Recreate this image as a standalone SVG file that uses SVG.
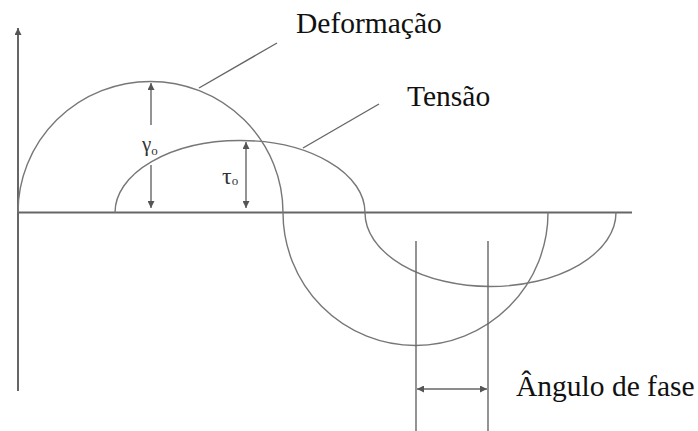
<svg xmlns="http://www.w3.org/2000/svg" width="698" height="431" viewBox="0 0 698 431">
<defs>
<marker id="ah" viewBox="0 0 10 10" refX="10" refY="5" markerWidth="7" markerHeight="7" markerUnits="userSpaceOnUse" orient="auto-start-reverse">
<path d="M0,0 L10,5 L0,10 Z" fill="#555"/>
</marker>
<style>
.ax{stroke:#666;stroke-width:2;fill:none}
.cv{stroke:#777;stroke-width:1.4;fill:none}
.ln{stroke:#666;stroke-width:1.4;fill:none}
.lb{font-family:"Liberation Serif","Times New Roman",serif;font-size:29.5px;fill:#111}
.sym{font-family:"Liberation Serif","Times New Roman",serif;fill:#333}
</style>
</defs>
<rect width="698" height="431" fill="#fff"/>
<g id="axes">
<line class="ax" x1="18" y1="391" x2="18" y2="28" marker-end="url(#ah)"/>
<line class="ax" x1="18" y1="212.5" x2="632" y2="212.5"/>
</g>
<g id="deformacao">
<path class="cv" d="M18,212.5 A132.5,131 0 0 1 283,212.5 A132.5,133 0 0 0 548,212.5"/>
</g>
<g id="tensao">
<path class="cv" d="M115,212.5 A125,72 0 0 1 365,212.5 A125.5,74 0 0 0 616,212.5"/>
</g>
<g id="connectors">
<line class="ln" x1="199" y1="88" x2="277" y2="43"/>
<line class="ln" x1="303" y1="148" x2="379" y2="104"/>
<line class="ln" x1="151" y1="125" x2="151" y2="83" marker-end="url(#ah)"/>
<line class="ln" x1="151" y1="165" x2="151" y2="208" marker-end="url(#ah)"/>
<line class="ln" x1="246" y1="175" x2="246" y2="142" marker-end="url(#ah)"/>
<line class="ln" x1="246" y1="175" x2="246" y2="208" marker-end="url(#ah)"/>
<line class="ln" x1="416" y1="241" x2="416" y2="431"/>
<line class="ln" x1="488" y1="241" x2="488" y2="431"/>
<line class="ln" x1="417" y1="389" x2="487" y2="389" marker-start="url(#ah)" marker-end="url(#ah)"/>
</g>
<g id="label-deformacao"><text class="lb" x="296" y="33">Deformação</text></g>
<g id="label-tensao"><text class="lb" x="407" y="106">Tensão</text></g>
<g id="label-fase"><text class="lb" x="516" y="396">Ângulo de fase</text></g>
<g id="label-gamma"><text class="sym" x="142" y="151" font-size="21">γ<tspan font-size="13" dy="4">o</tspan></text></g>
<g id="label-tau"><text class="sym" x="222" y="184" font-size="24">τ<tspan font-size="13" dy="1">o</tspan></text></g>
</svg>
